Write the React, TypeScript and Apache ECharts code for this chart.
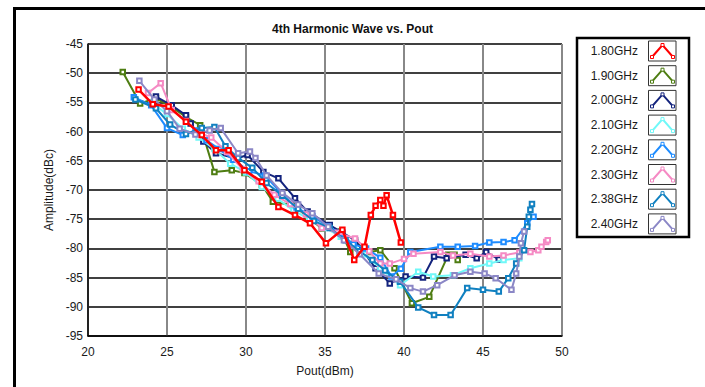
import React, { useEffect, useRef } from "react";
import * as echarts from "echarts";

const seriesNames = ["1.80GHz", "1.90GHz", "2.00GHz", "2.10GHz", "2.20GHz", "2.30GHz", "2.38GHz", "2.40GHz"];
const seriesColors = ["#ff0000", "#4e7d12", "#13237d", "#70f8f8", "#1e8cff", "#f58ac4", "#1080c0", "#8b87c6"];

const xTicks = [20, 25, 30, 35, 40, 45, 50];
const yTicks = [-95, -90, -85, -80, -75, -70, -65, -60, -55, -50, -45];

const s180: [number, number][] = [[23.2,-52.8],[24.1,-55.3],[25.1,-55.7],[26.2,-58.3],[27.2,-60.6],[28.1,-63.2],[28.9,-63.2],[29.9,-66.6],[31.0,-68.6],[32.05,-72.9],[33.1,-74.3],[34.05,-75.7],[35.06,-79.1],[36.1,-76.8],[36.85,-82],[37.5,-79.7],[37.9,-74.3],[38.2,-72.7],[38.5,-71.7],[38.7,-72.7],[38.9,-70.9],[39.3,-74.3],[39.8,-79.0]];
const s190: [number, number][] = [[22.2,-49.8],[23.3,-55.2],[24.3,-54.3],[25.3,-55.8],[26.2,-57.5],[27.1,-58.9],[28.0,-66.9],[29.1,-66.6],[29.9,-67.1],[31.0,-69.1],[31.7,-72],[33.0,-72.6],[33.9,-74.6],[34.8,-76.6],[36.0,-77.1],[36.6,-80.6],[36.9,-78.9],[37.8,-80.6],[38.5,-80.3],[39.4,-83.4],[40.5,-89.4],[41.6,-88.3],[42.8,-81.1],[43.2,-81.1],[43.4,-82]];
const s200: [number, number][] = [[24.3,-54],[25.3,-55.5],[26.2,-57.2],[26.5,-58.6],[27.3,-61.7],[28.1,-63.7],[29.4,-64.6],[30.1,-64],[31.1,-66.9],[32.05,-68],[33.1,-71.4],[33.9,-73.7],[35.3,-76],[36.1,-77.3],[36.9,-78.6],[38.2,-83.4],[39.1,-86],[40.1,-84.8],[41.2,-85],[41.9,-81.4],[42.7,-81.7],[43.9,-81.1],[44.6,-81.7],[45.2,-80.6],[46.0,-81.9]];
const s210: [number, number][] = [[24.0,-55],[25.0,-57],[26.0,-59.5],[27.0,-61],[28.0,-63],[29.0,-65.5],[30.0,-67],[31.0,-69.5],[32.0,-71.5],[33.0,-73.5],[34.0,-75],[35.0,-76.5],[36.0,-78],[36.8,-79.5],[37.5,-81],[38.5,-83.4],[39.75,-86.3],[40.9,-84],[41.85,-84.8],[43.1,-84.6],[44.2,-83.4],[45.4,-82.6],[46.3,-82],[47.3,-81.7]];
const s220: [number, number][] = [[22.9,-54.1],[24.0,-55.5],[25.0,-59.4],[26.0,-60.6],[26.8,-59.8],[27.5,-61.5],[28.3,-63],[29.2,-64.8],[30.2,-66.8],[31.2,-67.5],[32.2,-70.5],[33.2,-73],[34.2,-74.5],[35.2,-76.2],[36.0,-77.5],[36.8,-79.3],[37.6,-80],[38.5,-81.6],[39.2,-84.8],[39.8,-83.5],[40.4,-80.6],[42.3,-79.7],[43.4,-79.7],[44.5,-79.6],[45.4,-79.0],[46.3,-78.9],[47.0,-78.6],[47.8,-75.7],[48.2,-74.6]];
const s230: [number, number][] = [[23.8,-53.4],[24.6,-51.7],[25.3,-56.3],[26.2,-58.2],[27.0,-60.2],[27.8,-61.0],[28.8,-63.5],[29.8,-66.5],[30.8,-68.5],[31.8,-70.8],[32.8,-72.4],[33.8,-74.2],[34.8,-76.5],[35.8,-77.3],[36.9,-78.3],[37.8,-80.5],[38.5,-82.6],[39.1,-82.6],[40.0,-81.8],[40.6,-80.9],[42.3,-80.6],[43.1,-81.2],[44.2,-80.9],[45.4,-81.4],[46.3,-81.2],[47.3,-80.7],[48.0,-80.6],[48.5,-80.3],[48.7,-79.7],[49.0,-78.9],[49.1,-78.6]];
const s238: [number, number][] = [[23.0,-54.5],[24.3,-56],[25.2,-58.8],[26.2,-60.4],[27.2,-59.4],[28.0,-59.2],[28.7,-62.5],[29.5,-64.5],[30.4,-66.2],[31.3,-68.8],[32.3,-71],[33.3,-73.2],[34.3,-75.3],[35.3,-76.5],[36.3,-78.6],[37.2,-80.5],[38.0,-82],[38.8,-83.8],[39.75,-85.7],[40.9,-90.1],[41.9,-91.4],[42.95,-91.4],[44.0,-86.8],[45.0,-87.1],[46.0,-87.4],[46.6,-85.1],[47.1,-82.6],[47.6,-80.3],[47.8,-76.3],[47.9,-74.6],[48.0,-73.4],[48.1,-72.4]];
const s240: [number, number][] = [[23.25,-51.3],[24.2,-54.5],[25.0,-56.5],[25.8,-59.5],[26.8,-60.5],[27.7,-59.8],[28.4,-59.4],[29.5,-63.7],[30.25,-63.4],[30.6,-64.5],[31.3,-67.5],[32.3,-70.5],[33.3,-72.5],[34.2,-74],[35.2,-76.3],[36.2,-78.6],[37.2,-81],[38.4,-84.3],[39.5,-85.3],[40.4,-86.8],[41.2,-87.4],[42.1,-86.3],[43.2,-84.6],[44.2,-84],[45.1,-84.3],[45.8,-85.1],[46.8,-87.1],[47.1,-84.3],[47.3,-81.4],[47.4,-79.1],[47.6,-77.1]];

const seriesData = [s180, s190, s200, s210, s220, s230, s238, s240];
const seriesZ = [12, 4, 5, 6, 7, 8, 9, 10];

const FONT = "'Liberation Sans', Arial, sans-serif";

export default function App() {
  const ref = useRef<HTMLDivElement>(null);
  useEffect(() => {
    if (!ref.current) return;
    const chart = echarts.init(ref.current, null, { renderer: "svg" });

    const legendTop = 51;
    const legendStep = 24.7;
    const legendGraphics: any[] = [
      { type: "rect", shape: { x: 577, y: 38, width: 112, height: 199 }, style: { fill: "#fff", stroke: "#000", lineWidth: 2.5 }, z: 10 },
    ];
    seriesNames.forEach((name, i) => {
      const cy = legendTop + i * legendStep;
      const c = seriesColors[i];
      legendGraphics.push({ type: "text", x: 638, y: cy, style: { text: name, font: `12px ${FONT}`, fill: "#1a1a1a", align: "right", verticalAlign: "middle" }, z: 11 });
      legendGraphics.push({ type: "rect", shape: { x: 648.5, y: cy - 10, width: 27.5, height: 20 }, style: { fill: "#fff", stroke: "#333", lineWidth: 1 }, z: 11 });
      legendGraphics.push({ type: "polyline", shape: { points: [[652, cy + 6], [662.5, cy - 6], [673, cy + 6]] }, style: { stroke: c, lineWidth: 2, fill: null }, z: 12 });
      [[652, cy + 6], [662.5, cy - 6], [673, cy + 6]].forEach(([px, py]) => {
        legendGraphics.push({ type: "rect", shape: { x: px - 1.5, y: py - 1.5, width: 3, height: 3 }, style: { fill: "#fff", stroke: c, lineWidth: 1 }, z: 13 });
      });
    });

    chart.setOption({
      animation: false,
      backgroundColor: "#fff",
      title: {
        text: "4th Harmonic Wave vs. Pout",
        left: "center",
        top: 18,
        textStyle: { fontFamily: FONT, fontSize: 12, fontWeight: "bold", color: "#111" },
      },
      grid: { left: 88, right: 143, top: 44, bottom: 51 },
      xAxis: {
        type: "value",
        min: 20,
        max: 50,
        interval: 5,
        name: "Pout(dBm)",
        nameLocation: "middle",
        nameGap: 29,
        nameTextStyle: { fontFamily: FONT, fontSize: 12, color: "#1a1a1a" },
        axisLine: { lineStyle: { color: "#000", width: 1.5 } },
        axisTick: { show: false },
        axisLabel: { fontFamily: FONT, fontSize: 12, color: "#1a1a1a", margin: 10, formatter: (v: number) => (xTicks.includes(v) ? String(v) : "") },
        splitLine: { show: true, lineStyle: { color: "#888", width: 2 } },
      },
      yAxis: {
        type: "value",
        min: -95,
        max: -45,
        interval: 5,
        name: "Amplitude(dBc)",
        nameLocation: "middle",
        nameGap: 28,
        nameTextStyle: { fontFamily: FONT, fontSize: 12, color: "#1a1a1a" },
        axisLine: { show: true, lineStyle: { color: "#000", width: 1.5 } },
        axisTick: { show: false },
        axisLabel: { fontFamily: FONT, fontSize: 12, color: "#1a1a1a", margin: 5, formatter: (v: number) => (yTicks.includes(v) ? String(v) : "") },
        splitLine: { show: true, lineStyle: { color: "#000", width: 1.5 } },
      },
      graphic: [
        { type: "rect", shape: { x: 14.5, y: 8.5, width: 900, height: 600 }, style: { fill: null, stroke: "#000", lineWidth: 3 }, z: 20, silent: true },
        ...legendGraphics,
      ],
      series: seriesNames.map((name, i) => ({
        name,
        type: "line",
        data: seriesData[i],
        symbol: "emptyRect",
        symbolSize: 4.5,
        showSymbol: true,
        lineStyle: { color: seriesColors[i], width: i === 0 ? 2.5 : 2 },
        itemStyle: { color: seriesColors[i], borderColor: seriesColors[i], borderWidth: 1.2 },
        z: seriesZ[i],
      })),
    });
    return () => chart.dispose();
  }, []);
  return <div ref={ref} style={{ position: "fixed", left: 0, top: 0, width: 705, height: 387 }} />;
}
